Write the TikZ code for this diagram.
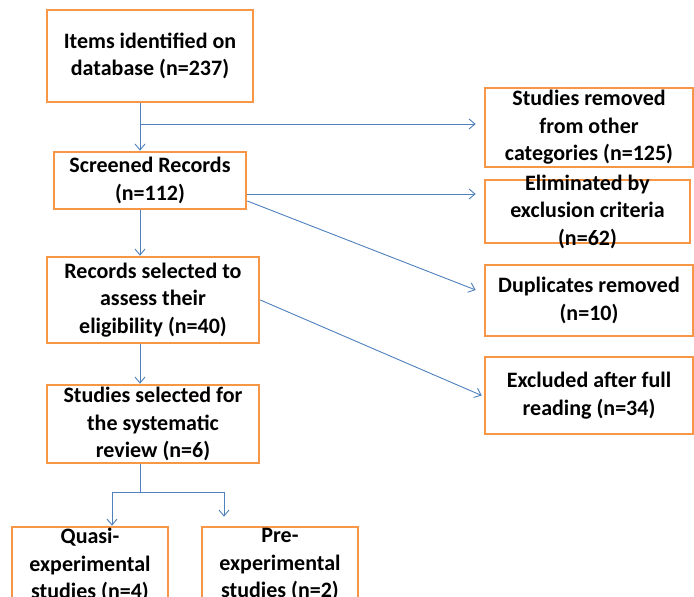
\documentclass[tikz,border=0pt]{standalone}
\usepackage{fontspec}
\setmainfont{Carlito}
\usetikzlibrary{positioning,calc,arrows.meta}
\definecolor{boxorange}{HTML}{F79646}
\definecolor{flowblue}{HTML}{4F81BD}
\tikzset{
  box/.style={draw=boxorange,line width=2.6pt,fill=white,inner sep=0pt,align=center,
    font=\bfseries\fontsize{22}{27.5}\selectfont},
  boxtext/.style={align=center,inner sep=0pt,font=\bfseries\fontsize{22}{27.5}\selectfont},
  flow/.style={draw=flowblue,line width=0.9pt,-{Straight Barb[length=6pt,width=10pt]}},
  link/.style={draw=flowblue,line width=0.9pt}
}

\begin{document}
\begin{tikzpicture}[x=1pt,y=-1pt]
        \useasboundingbox (0,0) rectangle (694,597);
        \clip (0,0) rectangle (694,597);
        \fill[white] (0,0) rectangle (694,597);

        % main column
        \node[box,minimum width=206,minimum height=92] (items) at (150,56) {Items identified on\\database (n=237)};
        \node[box,minimum width=192,minimum height=57] (scr) at (150,180.5) {Screened Records\\(n=112)};
        \node[box,minimum width=212,minimum height=86] (rec) at (153,300) {Records selected to\\assess their\\eligibility (n=40)};
        \node[box,minimum width=212,minimum height=78] (sel) at (153,424) {Studies selected for\\the systematic\\review (n=6)};
        \node[box,minimum width=156,minimum height=76] (quasi) at (90,565) {Quasi-\\experimental\\studies (n=4)};
        \node[box,minimum width=156,minimum height=76] (pre) at (280,565) {Pre-\\experimental\\studies (n=2)};

        % exclusions
        \node[box,minimum width=208,minimum height=79] (r1) at (589,127.5) {Studies removed\\from other\\categories (n=125)};
        \node[box,minimum width=205,minimum height=63,
              label={[boxtext]center:Eliminated by\\exclusion criteria\\(n=62)}] (r2) at (587.5,211.5) {};
        \node[box,minimum width=208,minimum height=71] (r3) at (589,300.5) {Duplicates removed\\(n=10)};
        \node[box,minimum width=208,minimum height=77] (r4) at (589,395.5) {Excluded after full\\reading (n=34)};

        \draw[flow] ($(items.south)+(-10,0)$) -- ($(scr.north)+(-10,0)$);
        \coordinate (br1) at (140,124);
        \draw[flow] (br1) -- ($(br1 -| r1.west)+(-8,0)$);
        \draw[flow] ($(scr.east)+(0,13.5)$) -- ($(r2.west)+(-8,-17.5)$);
        \draw[flow] ($(scr.east)+(0,20.5)$) -- ($(r3.west)+(-8,-10.5)$);
        \draw[flow] ($(scr.south)+(-10,0)$) -- ($(rec.north)+(-13,0)$);
        \draw[flow] (rec.east) -- ($(r4.west)+(-2,0)$);
        \draw[flow] ($(rec.south)+(-13,0)$) -- ($(sel.north)+(-13,0)$);

        \coordinate (split) at ($(sel.south)+(-13,28)$);
        \coordinate (splitL) at ($(split)+(-28,0)$);
        \coordinate (splitR) at ($(split)+(84,0)$);
        \draw[link] ($(sel.south)+(-13,0)$) -- (split);
        \draw[link] (splitL) -- (splitR);
        \draw[flow] (splitL) -- (splitL |- quasi.north);
        \draw[flow] (splitR) -- ($(splitR |- pre.north)+(0,-9)$);
    \end{tikzpicture}
\end{document}
